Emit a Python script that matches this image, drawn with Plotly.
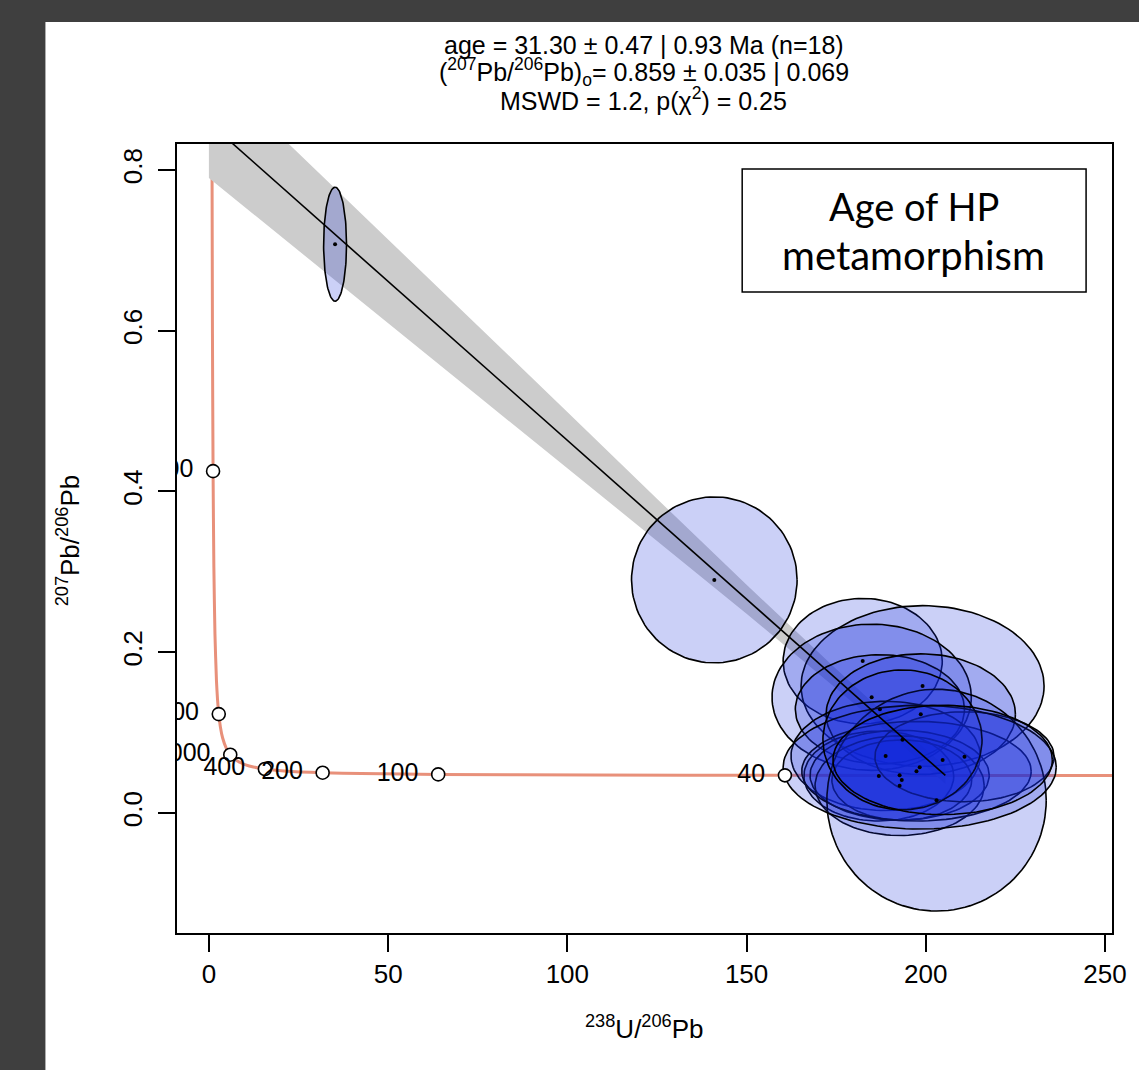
import numpy as np
import plotly.graph_objects as go

# ---------------- data ----------------
# concordia curve (Tera-Wasserburg)
conc_t = [25, 30, 40, 60, 100, 150, 200, 300, 400, 500, 600, 700, 800, 1000, 1200, 1500, 1750, 2000, 2250, 2500, 3000, 3500, 4000, 4500, 5000]
conc_x = [257.4, 214.4, 160.7, 106.9, 63.97, 42.48, 31.73, 20.99, 15.62, 12.40, 10.25, 8.718, 7.568, 5.959, 4.888, 3.817, 3.206, 2.749, 2.394, 2.111, 1.688, 1.387, 1.163, 0.990, 0.853]
conc_y = [0.04655, 0.04664, 0.04685, 0.04723, 0.04804, 0.04907, 0.05013, 0.05236, 0.05472, 0.05725, 0.05993, 0.06279, 0.06582, 0.07253, 0.08016, 0.09364, 0.10712, 0.12304, 0.14193, 0.16436, 0.22276, 0.3061, 0.4253, 0.597, 0.8457]

# labelled age markers on the concordia (Ma)
tick_age = ["40", "100", "200", "400", "1000", "2000", "4000"]
tick_x = [160.7, 63.97, 31.73, 15.62, 5.959, 2.749, 1.163]
tick_y = [0.04685, 0.04804, 0.05013, 0.05472, 0.07253, 0.12304, 0.4253]

# isochron line (from y-intercept to concordia intercept)
line_x = [0.0, 205.46]
line_y = [0.859, 0.0467]

# confidence band of the isochron
band_x = [0, 25, 50, 75, 100, 125, 150, 175, 190, 205.46]
band_upper = [0.928, 0.821, 0.713, 0.607, 0.499, 0.391, 0.284, 0.179, 0.118, 0.058]
band_lower = [0.790, 0.699, 0.609, 0.519, 0.429, 0.339, 0.248, 0.155, 0.098, 0.036]

# error ellipses: centre x, centre y, semi-axis x, semi-axis y
ell_x = [35.2, 141.0, 182.4, 199.1, 184.9, 187.2, 198.6, 188.8, 186.9, 192.7, 193.3, 192.7, 197.4, 210.8, 203.0, 198.3, 193.5, 204.7]
ell_y = [0.7076, 0.290, 0.189, 0.158, 0.144, 0.129, 0.123, 0.071, 0.046, 0.047, 0.041, 0.034, 0.052, 0.070, 0.016, 0.057, 0.091, 0.066]
ell_a = [3.2, 23.1, 22.2, 33.9, 27.8, 23.6, 26.4, 26.4, 20.9, 25.0, 19.5, 23.6, 32.0, 25.0, 30.6, 38.1, 22.2, 30.6]
ell_b = [0.0709, 0.1033, 0.078, 0.100, 0.091, 0.068, 0.075, 0.068, 0.056, 0.056, 0.050, 0.062, 0.062, 0.056, 0.138, 0.077, 0.087, 0.068]

title_lines = [
    "age = 31.30 ± 0.47 | 0.93 Ma (n=18)",
    "(<sup>207</sup>Pb/<sup>206</sup>Pb)<sub>o</sub>= 0.859 ± 0.035 | 0.069",
    "MSWD = 1.2, p(χ<sup>2</sup>) = 0.25",
]
x_ticks = [0, 50, 100, 150, 200, 250]
y_ticks = [0.0, 0.2, 0.4, 0.6, 0.8]

# ---------------- figure ----------------
W, H = 1139, 1070
L, R, T, B = 177, 24, 144, 137
pw, ph = W - L - R, H - T - B

def px_to_paper_x(px):
    return (px - L) / pw

def py_to_paper_y(py):
    return (H - B - py) / ph

FONT = "Liberation Sans, Arial, Helvetica, sans-serif"

fig = go.Figure()

# concordia
fig.add_trace(go.Scatter(x=conc_x, y=conc_y, mode="lines",
                         line=dict(color="#E8907A", width=3, shape="spline", smoothing=0.6),
                         hoverinfo="skip", showlegend=False))

# band
fig.add_trace(go.Scatter(x=band_x + band_x[::-1], y=band_upper + band_lower[::-1],
                         mode="lines", fill="toself", fillcolor="rgb(204,204,204)",
                         line=dict(width=0, color="rgba(0,0,0,0)"),
                         hoverinfo="skip", showlegend=False))

# ellipses
theta = np.linspace(0, 2 * np.pi, 121)
for cx, cy, a, b in zip(ell_x, ell_y, ell_a, ell_b):
    fig.add_trace(go.Scatter(x=cx + a * np.cos(theta), y=cy + b * np.sin(theta),
                             mode="lines", fill="toself",
                             fillcolor="rgba(20,40,220,0.22)",
                             line=dict(color="black", width=1.6),
                             hoverinfo="skip", showlegend=False))

# isochron line
fig.add_trace(go.Scatter(x=line_x, y=line_y, mode="lines",
                         line=dict(color="black", width=1.6),
                         hoverinfo="skip", showlegend=False))

# centre dots
fig.add_trace(go.Scatter(x=ell_x, y=ell_y, mode="markers",
                         marker=dict(color="black", size=4),
                         hoverinfo="skip", showlegend=False))

# concordia age markers
fig.add_trace(go.Scatter(x=tick_x, y=tick_y, mode="markers",
                         marker=dict(symbol="circle", size=13, color="white",
                                     line=dict(color="black", width=1.6)),
                         cliponaxis=True, hoverinfo="skip", showlegend=False))
# their labels (offset to the left with an invisible larger marker)
fig.add_trace(go.Scatter(x=tick_x, y=tick_y, mode="markers+text",
                         text=tick_age, textposition="middle left",
                         textfont=dict(family=FONT, size=25, color="black"),
                         marker=dict(size=30, color="rgba(0,0,0,0)"),
                         cliponaxis=True, hoverinfo="skip", showlegend=False))

shapes = [
    # white page on dark background
    dict(type="rect", xref="paper", yref="paper", layer="below",
         x0=px_to_paper_x(45), x1=px_to_paper_x(W + 5),
         y0=py_to_paper_y(H + 5), y1=py_to_paper_y(22),
         fillcolor="white", line=dict(width=0)),
    # text box
    dict(type="rect", xref="paper", yref="paper", layer="above",
         x0=px_to_paper_x(744), x1=px_to_paper_x(1089),
         y0=py_to_paper_y(292), y1=py_to_paper_y(169),
         fillcolor="white", line=dict(color="black", width=1.5)),
]

annotations = []
for txt, py in zip(title_lines, [45, 72, 99]):
    annotations.append(dict(text=txt, xref="paper", yref="paper",
                            x=px_to_paper_x(645), y=py_to_paper_y(py),
                            xanchor="center", yanchor="middle", showarrow=False,
                            font=dict(family=FONT, size=25, color="black")))
for txt, py, fs in zip(["Age of HP", "metamorphism"], [206, 255], [38, 40]):
    annotations.append(dict(text=txt, xref="paper", yref="paper",
                            x=px_to_paper_x(916), y=py_to_paper_y(py),
                            xanchor="center", yanchor="middle", showarrow=False,
                            font=dict(family="Lato, Open Sans, sans-serif", size=fs, color="black")))
# axis titles
annotations.append(dict(text="<sup>238</sup>U/<sup>206</sup>Pb", xref="paper", yref="paper",
                        x=px_to_paper_x(646), y=py_to_paper_y(1027),
                        xanchor="center", yanchor="middle", showarrow=False,
                        font=dict(family=FONT, size=26, color="black")))
annotations.append(dict(text="<sup>207</sup>Pb/<sup>206</sup>Pb", xref="paper", yref="paper",
                        x=px_to_paper_x(68), y=py_to_paper_y(540), textangle=-90,
                        xanchor="center", yanchor="middle", showarrow=False,
                        font=dict(family=FONT, size=26, color="black")))

fig.update_layout(
    width=W, height=H,
    margin=dict(l=L, r=R, t=T, b=B, pad=0),
    paper_bgcolor="#3f3f3f",
    plot_bgcolor="rgba(0,0,0,0)",
    shapes=shapes, annotations=annotations,
    showlegend=False,
    xaxis=dict(range=[-8.9, 251.95], tickvals=x_ticks, ticktext=[str(v) for v in x_ticks],
               showgrid=False, zeroline=False, showline=True, mirror=True,
               linecolor="black", linewidth=2, ticks="outside", ticklen=17,
               tickwidth=1.6, tickcolor="black", ticklabelstandoff=0,
               tickfont=dict(family=FONT, size=26, color="black")),
    yaxis=dict(range=[-0.1493, 0.8323], tickvals=y_ticks, ticktext=["0.0", "0.2", "0.4", "0.6", "0.8"],
               showgrid=False, zeroline=False, showline=True, mirror=True,
               linecolor="black", linewidth=2, ticks="outside", ticklen=17,
               tickwidth=1.6, tickcolor="black", tickangle=-90, ticklabelstandoff=6,
               tickfont=dict(family=FONT, size=26, color="black")),
)

fig.write_html("out.html",
               config={"displayModeBar": False},
               post_script="document.body.style.margin='0px';"
                           "document.body.style.background='#3f3f3f';"
                           "document.documentElement.style.overflow='hidden';")
